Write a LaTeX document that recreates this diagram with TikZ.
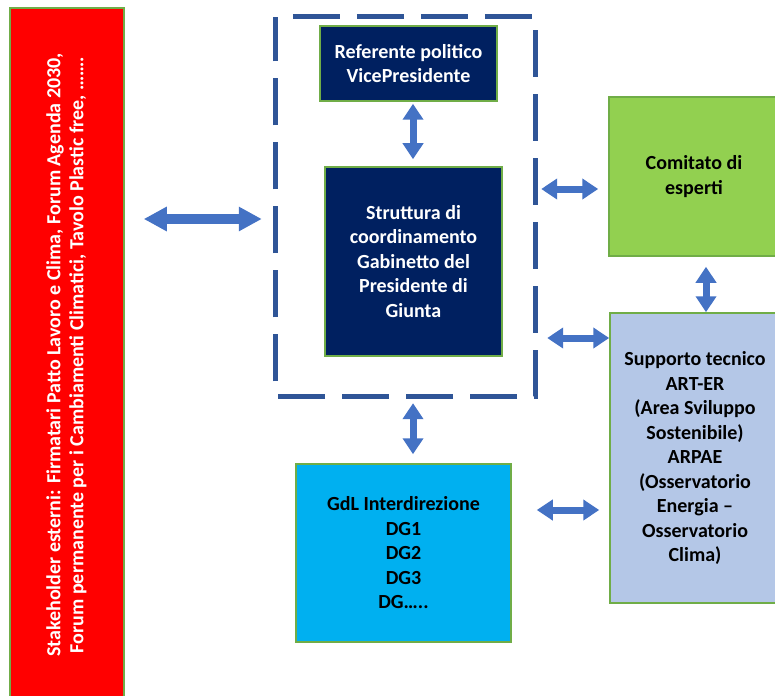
\documentclass[tikz,border=0pt]{standalone}
\usepackage{fontspec}
\setmainfont{Carlito}
\usepackage{xcolor}
\usetikzlibrary{arrows.meta}
\definecolor{navyfill}{HTML}{002060}
\definecolor{boxgreen}{HTML}{70AD47}
\definecolor{lightgreen}{HTML}{92D050}
\definecolor{lightblue}{HTML}{B4C7E7}
\definecolor{skyblue}{HTML}{00B0F0}
\definecolor{frameblue}{HTML}{2F5597}
\definecolor{arrowblue}{HTML}{4472C4}
\tikzset{
  box/.style={draw=boxgreen, line width=1.5pt, inner sep=0pt, align=center,
    font=\fontsize{20}{24.5}\selectfont\bfseries},
  dashframe/.style={draw=frameblue, line width=5pt, dash pattern=on 47pt off 17pt, dash phase=47pt},
  biarrow/.style={draw=arrowblue, line width=7pt,
    {Triangle[width=20pt,length=16pt]}-{Triangle[width=20pt,length=16pt]}},
  bigarrow/.style={draw=arrowblue, line width=10pt,
    {Triangle[width=23pt,length=23pt]}-{Triangle[width=23pt,length=23pt]}}
}

\begin{document}
\begin{tikzpicture}[x=1pt,y=-1pt]
  \useasboundingbox (0,0) rectangle (775,695);
  \node[box, fill=red, minimum width=114pt, minimum height=700pt] (stake) at (67,358) {};
  \node[rotate=90, text=white, align=center, font=\fontsize{20}{23}\selectfont\bfseries] (stakelbl) at (66.5,355)
    {Stakeholder esterni: Firmatari Patto Lavoro e Clima, Forum Agenda 2030,\\
     Forum permanente per i Cambiamenti Climatici, Tavolo Plastic free, …….};

  \node[minimum width=259pt, minimum height=379pt] (frame) at (405.5,206.5) {};
  \draw[dashframe] (frame.north west) -- (frame.north east) -- (frame.south east) -- (frame.south west) -- cycle;

  \node[box, fill=navyfill, text=white, minimum width=177pt, minimum height=75pt] (refp) at (408.5,63.5)
    {Referente politico\\VicePresidente};
  \node[box, fill=navyfill, text=white, minimum width=177pt, minimum height=189pt] (strutt) at (413.5,261.5)
    {Struttura di\\coordinamento\\Gabinetto del\\Presidente di\\Giunta};
  \node[box, fill=lightgreen, minimum width=170pt, minimum height=159pt] (comit) at (694,176.5)
    {Comitato di\\esperti};
  \node[box, fill=lightblue, minimum width=170pt, minimum height=290pt] (supp) at (695,458)
    {Supporto tecnico\\ART-ER\\(Area Sviluppo\\Sostenibile)\\ARPAE\\(Osservatorio\\Energia –\\Osservatorio\\Clima)};
  \node[box, fill=skyblue, minimum width=215pt, minimum height=178pt] (gdl) at (403.5,553)
    {GdL Interdirezione\\DG1\\DG2\\DG3\\DG…..};

  \coordinate (sarrow) at (200,219);
  \coordinate (carrow) at ([yshift=-12.5pt]comit.west);
  \coordinate (varrow) at ([xshift=12pt]comit.south);
  \coordinate (sparrow) at ([yshift=120pt]supp.west);
  \coordinate (garrow) at ([yshift=43pt]gdl.east);
  \coordinate (darrow) at ([xshift=9.5pt]gdl.north);

  \draw[bigarrow, shorten <=19pt, shorten >=14pt] (stake.east |- sarrow) -- (frame.west |- sarrow);
  \draw[biarrow, shorten <=2pt, shorten >=7pt] (refp.south -| darrow) -- (strutt.north -| darrow);
  \draw[biarrow, shorten <=6pt, shorten >=10pt] (frame.east |- carrow) -- (carrow);
  \draw[biarrow, shorten <=10pt] (varrow) -- (supp.north -| varrow);
  \draw[biarrow, shorten <=12pt] (frame.east |- sparrow) -- (sparrow);
  \draw[biarrow, shorten <=7pt, shorten >=9pt] (frame.south -| darrow) -- (darrow);
  \draw[biarrow, shorten <=25pt, shorten >=10pt] (garrow) -- (supp.west |- garrow);
\end{tikzpicture}
\end{document}
